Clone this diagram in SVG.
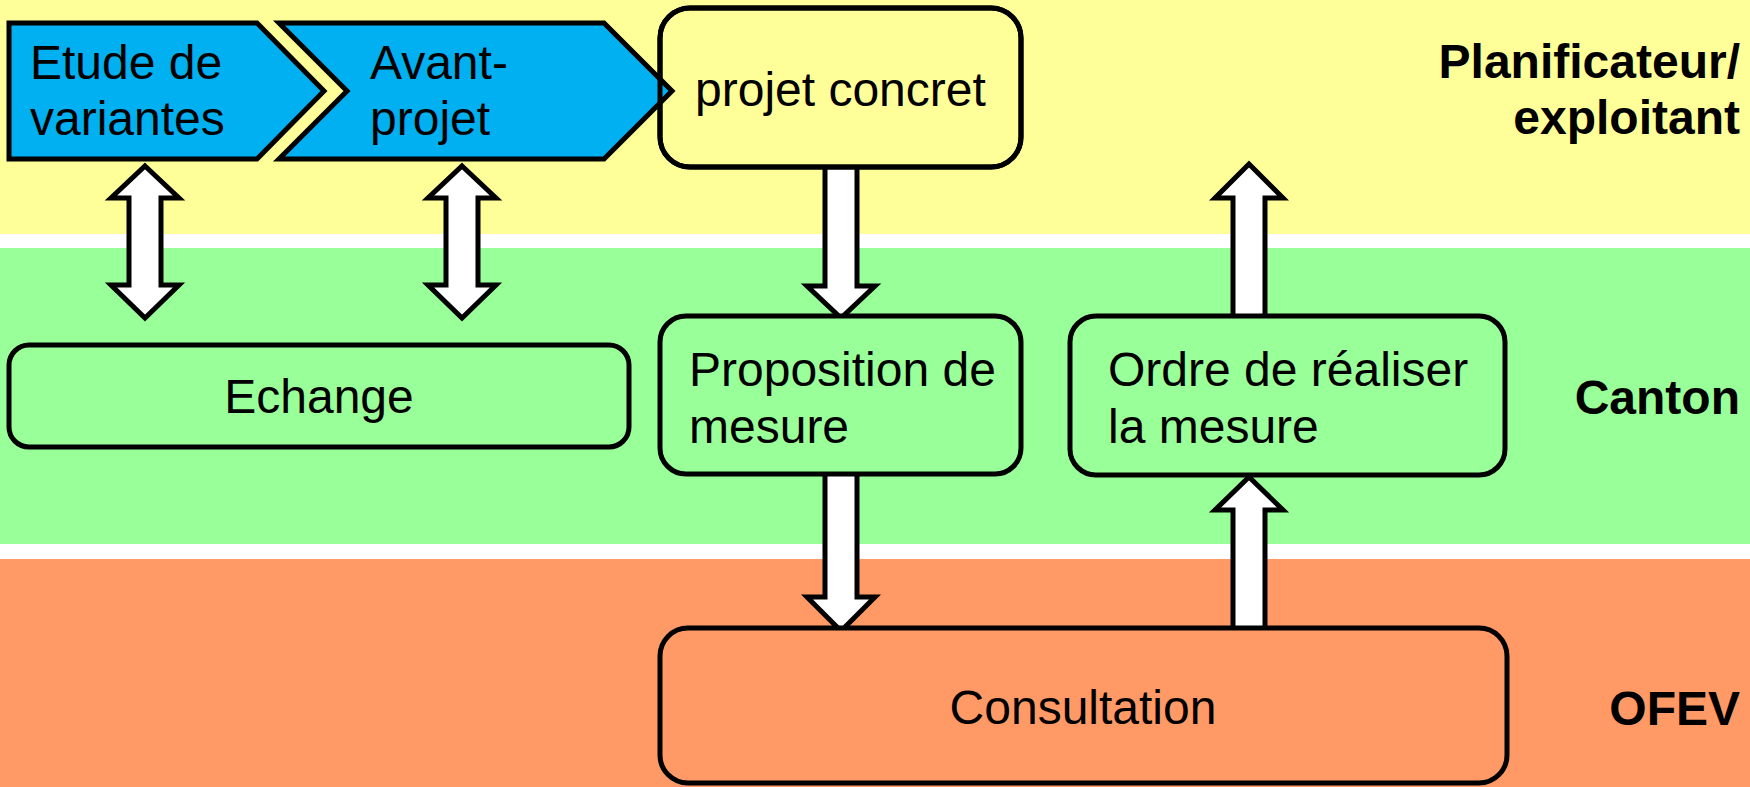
<svg xmlns="http://www.w3.org/2000/svg" width="1750" height="787" viewBox="0 0 1750 787">
<style>
.box{stroke:#000;stroke-width:5}
.chev{fill:#00B0F0;stroke:#000;stroke-width:5;stroke-linejoin:miter}
.arr{fill:#fff;stroke:#000;stroke-width:5;stroke-linejoin:miter}
.t{font-family:"Liberation Sans",Arial,sans-serif;font-size:48px;fill:#000}
.lab{font-family:"Liberation Sans",Arial,sans-serif;font-size:48px;font-weight:bold;fill:#000;text-anchor:end}
.mid{text-anchor:middle}
</style>
<rect width="1750" height="787" fill="#fff"/>
<g id="lanes">
<rect x="0" y="0" width="1750" height="234" fill="#FFFF99"/>
<rect x="0" y="248" width="1750" height="296" fill="#99FF99"/>
<rect x="0" y="559" width="1750" height="228" fill="#FF9966"/>
<text class="lab" x="1740" y="78">Planificateur/</text>
<text class="lab" x="1740" y="134">exploitant</text>
<text class="lab" x="1740" y="414">Canton</text>
<text class="lab" x="1740" y="725">OFEV</text>
</g>
<g id="connectors">
<polygon class="arr" points="145,166 179,198 161,198 161,285 179,285 145,318 111,285 129,285 129,198 111,198"/>
<polygon class="arr" points="462,166 496,198 478,198 478,285 496,285 462,318 428,285 446,285 446,198 428,198"/>
<polygon class="arr" points="825,160 857,160 857,286 875,286 841,318 807,286 825,286"/>
<polygon class="arr" points="825,468 857,468 857,597 875,597 841,631 807,597 825,597"/>
<polygon class="arr" points="1233,322 1265,322 1265,198 1283,198 1249,164 1215,198 1233,198"/>
<polygon class="arr" points="1233,630 1265,630 1265,510 1283,510 1249,477 1215,510 1233,510"/>
</g>
<g id="n-projet">
<rect class="box" x="660" y="8" width="361" height="159" rx="30" fill="#FFFF99"/>
</g>
<g id="n-etude">
<polygon class="chev" points="9,23 257,23 324,91 257,159 9,159"/>
<text class="t" x="30" y="79">Etude de</text>
<text class="t" x="30" y="135">variantes</text>
</g>
<g id="n-avant">
<polygon class="chev" points="279,23 604,23 672,91 604,159 279,159 347,91"/>
<text class="t" x="370" y="79">Avant-</text>
<text class="t" x="370" y="135">projet</text>
</g>
<g id="n-projet-outline">
<rect class="box" x="660" y="8" width="361" height="159" rx="30" fill="none"/>
<text class="t" x="695" y="106">projet concret</text>
</g>
<g id="n-echange">
<rect class="box" x="9" y="345" width="620" height="102" rx="20" fill="#99FF99"/>
<text class="t mid" x="319" y="413">Echange</text>
</g>
<g id="n-proposition">
<rect class="box" x="660" y="316" width="361" height="158" rx="26" fill="#99FF99"/>
<text class="t" x="689" y="386">Proposition de</text>
<text class="t" x="689" y="443">mesure</text>
</g>
<g id="n-ordre">
<rect class="box" x="1070" y="316" width="435" height="159" rx="26" fill="#99FF99"/>
<text class="t" x="1108" y="386">Ordre de réaliser</text>
<text class="t" x="1108" y="443">la mesure</text>
</g>
<g id="n-consultation">
<rect class="box" x="660" y="628" width="847" height="155" rx="28" fill="#FF9966"/>
<text class="t mid" x="1083" y="724">Consultation</text>
</g>
</svg>
